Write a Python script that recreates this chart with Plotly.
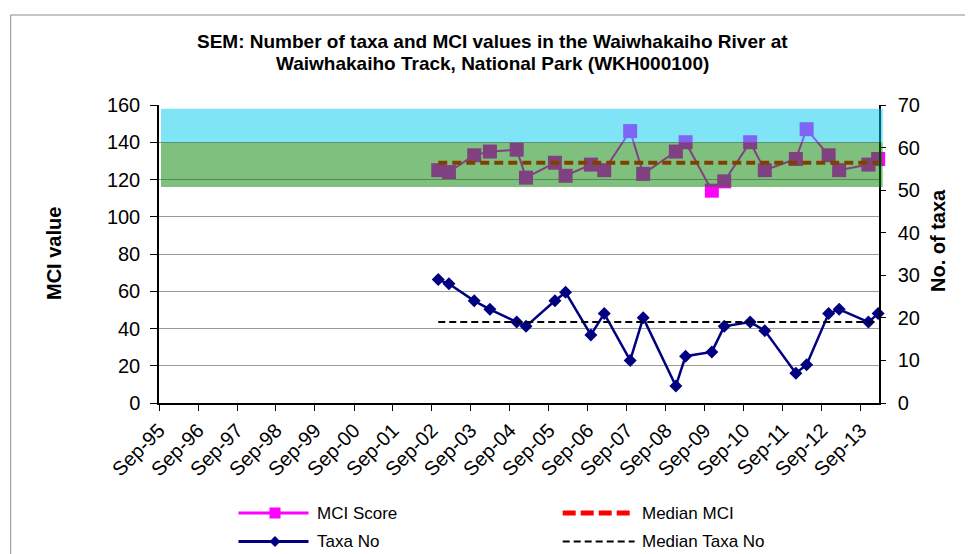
import plotly.graph_objects as go

# ---------------- data ----------------
sample_dates = [
    "2002-10-30", "2003-02-07", "2003-10-02", "2004-02-26", "2004-11-03", "2005-01-29",
    "2005-10-27", "2006-02-04", "2006-09-29", "2007-02-01", "2007-10-02", "2008-02-01",
    "2008-12-03", "2009-03-04", "2009-11-05", "2010-03-01", "2010-10-30", "2011-03-16",
    "2012-01-01", "2012-04-11", "2012-11-03", "2013-02-10", "2013-11-11", "2014-02-10",
]
mci_values = [125, 124, 133, 135, 136, 121, 129, 122, 128, 125, 146, 123,
              135, 140, 114, 119, 140, 125, 131, 147, 133, 125, 128, 131]
taxa_values = [29, 28, 24, 22, 19, 18, 24, 26, 16, 21, 10, 20,
               4, 11, 12, 18, 19, 17, 7, 9, 21, 22, 19, 21]
median_mci = 129
median_taxa = 19

tick_dates = ["%d-09-01" % y for y in range(1995, 2014)]
tick_labels = ["Sep-95", "Sep-96", "Sep-97", "Sep-98", "Sep-99", "Sep-00", "Sep-01",
               "Sep-02", "Sep-03", "Sep-04", "Sep-05", "Sep-06", "Sep-07", "Sep-08",
               "Sep-09", "Sep-10", "Sep-11", "Sep-12", "Sep-13"]

band_good = (116, 140)      # green band
band_verygood = (140, 158)  # blue band

# ---------------- layout geometry ----------------
# page body has an 8px default margin: work in screen pixels and shift
OFF = 8
SW, SH = 973, 554
W, H = SW - OFF, SH - OFF
PL, PR, PT, PB = 159, 879, 105, 403   # plot area in screen pixels
L, R, T, B = PL - OFF, SW - PR, PT - OFF, SH - PB
PW = PR - PL
PH = PB - PT
FONT = "Arial, Liberation Sans, sans-serif"


def px(x):
    return (x - PL) / PW


def py(y):
    return (PB - y) / PH


fig = go.Figure()

fig.add_trace(go.Scatter(
    x=sample_dates, y=mci_values, mode="lines+markers", name="MCI Score",
    line=dict(color="#FF00FF", width=2),
    marker=dict(symbol="square", size=14, color="#FF00FF"),
    cliponaxis=False, showlegend=False))
fig.add_trace(go.Scatter(
    x=[sample_dates[0], sample_dates[-1]], y=[median_mci, median_mci],
    mode="lines", name="Median MCI",
    line=dict(color="#FF0000", width=4, dash="9px,5px"), showlegend=False))
fig.add_trace(go.Scatter(
    x=sample_dates, y=taxa_values, yaxis="y2", mode="lines+markers", name="Taxa No",
    line=dict(color="#000080", width=2.5),
    marker=dict(symbol="diamond", size=10, color="#000080"),
    cliponaxis=False, showlegend=False))
fig.add_trace(go.Scatter(
    x=[sample_dates[0], sample_dates[-1]], y=[median_taxa, median_taxa], yaxis="y2",
    mode="lines", name="Median Taxa No",
    line=dict(color="#000000", width=2, dash="7px,4px"), showlegend=False))

shapes = [
    # outer chart border
    dict(type="rect", xref="paper", yref="paper", x0=px(10.7), x1=px(1000),
         y0=py(600), y1=py(15), line=dict(color="#8c8c8c", width=1),
         fillcolor="rgba(0,0,0,0)", layer="below"),
    # quality bands (semi-transparent, over the data)
    dict(type="rect", xref="paper", yref="y", x0=px(161), x1=px(882.7),
         y0=band_good[0], y1=band_good[1], fillcolor="rgb(0,130,0)",
         opacity=0.5, line=dict(width=0), layer="above"),
    dict(type="rect", xref="paper", yref="y", x0=px(161), x1=px(882.7),
         y0=band_verygood[0], y1=band_verygood[1], fillcolor="rgb(0,201,237)",
         opacity=0.5, line=dict(width=0), layer="above"),
]

# ---- manual legend ----
r1, r2 = 513, 541.5
lx0, lx1, lm = 238.5, 308.5, 275
dx0, dx1 = 562.7, 634.6
shapes += [
    dict(type="line", xref="paper", yref="paper", x0=px(lx0), x1=px(lx1),
         y0=py(r1), y1=py(r1), line=dict(color="#FF00FF", width=3)),
    dict(type="rect", xref="paper", yref="paper", xsizemode="pixel", ysizemode="pixel",
         xanchor=px(lm), yanchor=py(r1), x0=-5.5, x1=5.5, y0=-5.5, y1=5.5,
         fillcolor="#FF00FF", line=dict(width=0)),
    dict(type="line", xref="paper", yref="paper", x0=px(lx0), x1=px(lx1),
         y0=py(r2), y1=py(r2), line=dict(color="#000080", width=3)),
    dict(type="path", xref="paper", yref="paper", xsizemode="pixel", ysizemode="pixel",
         xanchor=px(lm), yanchor=py(r2), path="M -5.5,0 L 0,5.5 L 5.5,0 L 0,-5.5 Z",
         fillcolor="#000080", line=dict(width=0)),
    dict(type="line", xref="paper", yref="paper", x0=px(dx0), x1=px(dx1),
         y0=py(r1), y1=py(r1), line=dict(color="#FF0000", width=5, dash="13px,5px")),
    dict(type="line", xref="paper", yref="paper", x0=px(dx0), x1=px(dx1),
         y0=py(r2), y1=py(r2), line=dict(color="#000000", width=2, dash="7px,4px")),
]

annotations = [
    dict(text="<b>SEM: Number of taxa and MCI values in the Waiwhakaiho River at</b>",
         x=px(492.5), y=py(42), xref="paper", yref="paper", showarrow=False,
         xanchor="center", yanchor="middle", font=dict(size=19, family=FONT, color="black")),
    dict(text="<b>Waiwhakaiho Track, National Park (WKH000100)</b>",
         x=px(492.5), y=py(63), xref="paper", yref="paper", showarrow=False,
         xanchor="center", yanchor="middle", font=dict(size=19, family=FONT, color="black")),
    dict(text="<b>MCI value</b>", textangle=-90, x=px(54), y=py(254),
         xref="paper", yref="paper", showarrow=False, xanchor="center", yanchor="middle",
         font=dict(size=20, family=FONT, color="black")),
    dict(text="<b>No. of taxa</b>", textangle=-90, x=px(938), y=py(241),
         xref="paper", yref="paper", showarrow=False, xanchor="center", yanchor="middle",
         font=dict(size=20, family=FONT, color="black")),
]
for txt, xx, yy in [("MCI Score", 314.6, r1), ("Taxa No", 314.6, r2),
                    ("Median MCI", 639.6, r1), ("Median Taxa No", 639.6, r2)]:
    annotations.append(dict(text=txt, x=px(xx), y=py(yy), xref="paper", yref="paper",
                            showarrow=False, xanchor="left", yanchor="middle",
                            font=dict(size=17, family=FONT, color="black")))

fig.update_layout(
    width=W, height=H,
    margin=dict(l=L, r=R, t=T, b=B, pad=0),
    paper_bgcolor="white", plot_bgcolor="white",
    font=dict(family=FONT, size=20, color="black"),
    showlegend=False,
    xaxis=dict(type="date", range=["1995-09-01", "2014-02-18"],
               tickmode="array", tickvals=tick_dates, ticktext=tick_labels,
               tickangle=-45, ticks="outside", ticklen=6, tickcolor="black",
               showline=True, linecolor="black", linewidth=1.5,
               showgrid=False, zeroline=False, tickfont=dict(size=20)),
    yaxis=dict(range=[0, 160], dtick=20, tick0=0, ticks="outside", ticklen=7,
               tickcolor="black", showline=True, linecolor="black", linewidth=1.5,
               showgrid=True, gridcolor="#9a9a9a", gridwidth=1, zeroline=False,
               ticklabelstandoff=6, tickfont=dict(size=20)),
    yaxis2=dict(range=[0, 70], dtick=10, tick0=0, overlaying="y", side="right",
                ticks="outside", ticklen=5, tickcolor="black", showline=True,
                linecolor="black", linewidth=1.5, showgrid=False, zeroline=False,
                ticklabelstandoff=8, tickfont=dict(size=20)),
    shapes=shapes,
    annotations=annotations,
)

fig.write_html("out.html")
